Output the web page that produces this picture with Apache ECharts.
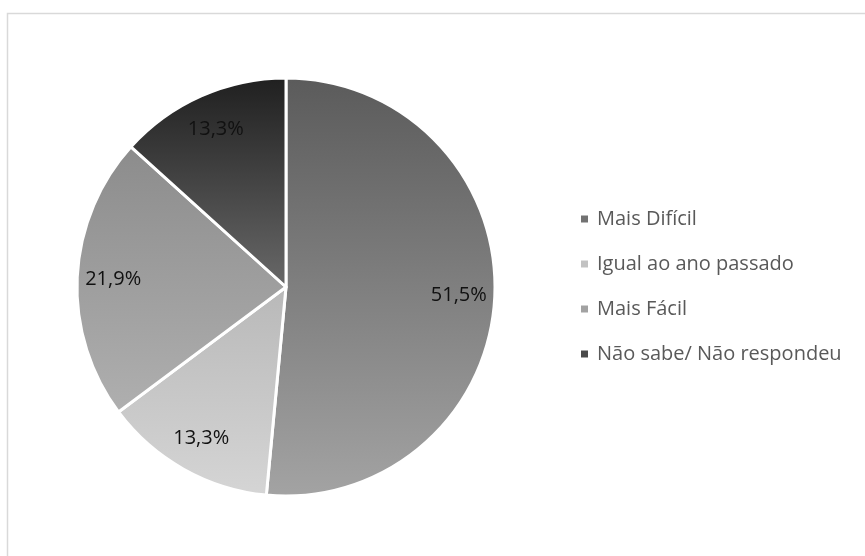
<!DOCTYPE html>
<html>
<head>
<meta charset="utf-8">
<script src="https://cdn.jsdelivr.net/npm/echarts@6/dist/echarts.min.js"></script>
<style>
  html, body { margin: 0; padding: 0; background: #fff; }
  #chart { width: 865px; height: 556px; }
</style>
</head>
<body>
<div id="chart"></div>
<script>
const categories = ['Mais Difícil', 'Igual ao ano passado', 'Mais Fácil', 'Não sabe/ Não respondeu']
const values = [51.5, 13.3, 21.9, 13.3]
// top / bottom shades of each slice's vertical gradient
const shadesTop = ['#5b5b5b', '#9c9c9c', '#838383', '#202020']
const shadesBottom = ['#a3a3a3', '#d5d5d5', '#bababa', '#b0b0b0']
const legendColors = ['#727272', '#c2c2c2', '#a2a2a2', '#4a4a4a']

const cx = 286
const cy = 287
const r = 209

const chart = echarts.init(document.getElementById('chart'))

function grad(i) {
  return {
    type: 'linear', global: true,
    x: 0, y: cy - r, x2: 0, y2: cy + r,
    colorStops: [
      { offset: 0, color: shadesTop[i] },
      { offset: 1, color: shadesBottom[i] }
    ]
  }
}

const sliceData = categories.map((name, i) => ({
  name: name,
  value: values[i],
  itemStyle: { color: grad(i) }
}))

// transparent twin ring, only used to place labels further out like the original
const labelData = categories.map((name, i) => ({
  name: name,
  value: values[i],
  itemStyle: { color: 'rgba(0,0,0,0)' }
}))

const option = {
  backgroundColor: '#fff',
  animation: false,
  graphic: [{
    type: 'rect',
    shape: { x: 7.5, y: 13.5, width: 880, height: 580 },
    style: { fill: 'none', stroke: '#d9d9d9', lineWidth: 1.5 },
    silent: true
  }],
  legend: {
    orient: 'vertical',
    left: 579,
    top: 208,
    padding: 0,
    itemWidth: 9,
    itemHeight: 9,
    itemGap: 23,
    icon: 'rect',
    data: categories.map((name, i) => ({ name: name, itemStyle: { color: legendColors[i] } })),
    textStyle: {
      fontFamily: 'Open Sans',
      fontSize: 20,
      color: '#595959',
      lineHeight: 22,
      padding: [0, 0, 0, 3]
    }
  },
  series: [
    {
      type: 'pie',
      center: [cx, cy],
      radius: [0, r],
      startAngle: 90,
      clockwise: true,
      label: { show: false },
      labelLine: { show: false },
      itemStyle: { borderColor: '#fff', borderWidth: 3 },
      emphasis: { disabled: true },
      data: sliceData
    },
    {
      type: 'pie',
      center: [cx, cy],
      radius: [0, 340],
      startAngle: 90,
      clockwise: true,
      silent: true,
      z: 3,
      label: {
        show: true,
        position: 'inside',
        fontFamily: 'Open Sans',
        fontSize: 20,
        color: '#111',
        formatter: p => p.value.toFixed(1).replace('.', ',') + '%'
      },
      labelLine: { show: false },
      emphasis: { disabled: true },
      data: labelData
    }
  ]
}

chart.setOption(option)
</script>
</body>
</html>
